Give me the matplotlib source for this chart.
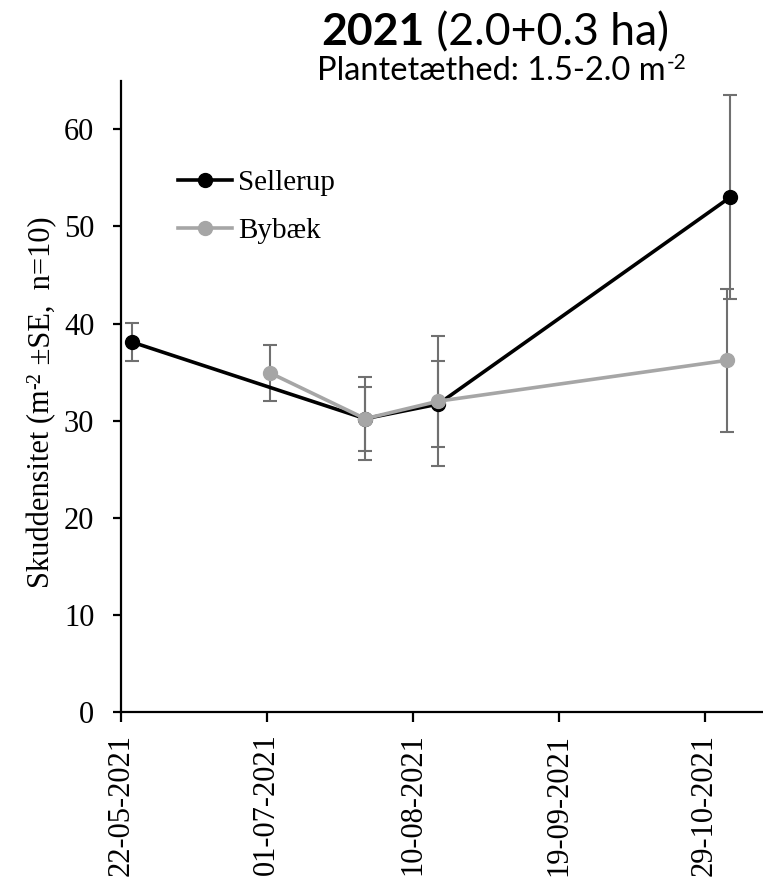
import matplotlib
matplotlib.use('Agg')
import matplotlib.pyplot as plt
import matplotlib.dates as mdates
from datetime import datetime, timedelta

# data
sellerup_dates = ['25-05-2021', '28-07-2021', '17-08-2021', '05-11-2021']
sellerup_mean = [38.1, 30.2, 31.7, 53.0]
sellerup_se = [1.95, 4.3, 4.4, 10.5]

bybaek_dates = ['02-07-2021', '28-07-2021', '17-08-2021', '04-11-2021']
bybaek_mean = [34.9, 30.2, 32.0, 36.2]
bybaek_se = [2.9, 3.3, 6.7, 7.4]

x_start = '22-05-2021'
x_end = '14-11-2021'
tick_step_days = 40
y_ticks = [0, 10, 20, 30, 40, 50, 60]

def d(s):
    return datetime.strptime(s, '%d-%m-%Y')

W, H = 763, 882
fig = plt.figure(figsize=(W/100, H/100), dpi=100)
ax = fig.add_axes([120.7/W, 1-712/H, 1-120.7/W, (712-80.7)/H])

serif = 'Liberation Serif'
sans = 'Lato'
errcol = '#707070'
greycol = '#A6A6A6'

ax.errorbar([d(s) for s in sellerup_dates], sellerup_mean, yerr=sellerup_se, fmt='none',
            ecolor=errcol, elinewidth=1.5, capsize=5, capthick=1.5, zorder=1)
ax.errorbar([d(s) for s in bybaek_dates], bybaek_mean, yerr=bybaek_se, fmt='none',
            ecolor=errcol, elinewidth=1.5, capsize=5, capthick=1.5, zorder=1)

ax.plot([d(s) for s in sellerup_dates], sellerup_mean, '-o', color='black', lw=2.6,
        ms=10, label='Sellerup', zorder=2, clip_on=False)
ax.plot([d(s) for s in bybaek_dates], bybaek_mean, '-o', color=greycol, lw=2.6,
        ms=10, label='Bybæk', zorder=3, clip_on=False)

ax.set_xlim(d(x_start), d(x_end))
ax.set_ylim(0, 65)
ticks = []
t = d(x_start)
while t <= d(x_end):
    ticks.append(t)
    t = t + timedelta(days=tick_step_days)
ax.set_xticks(ticks)
ax.xaxis.set_major_formatter(mdates.DateFormatter('%d-%m-%Y'))
ax.set_yticks(y_ticks)

for s in ['top', 'right']:
    ax.spines[s].set_visible(False)
for s in ['left', 'bottom']:
    ax.spines[s].set_linewidth(1.6)
ax.tick_params(axis='y', direction='out', length=6, width=1.6, pad=13, labelsize=22)
ax.tick_params(axis='x', direction='out', length=7, width=1.6, pad=8.5, labelsize=22,
               labelrotation=90)
for lab in ax.get_xticklabels() + ax.get_yticklabels():
    lab.set_fontfamily(serif)

ax.legend(loc='upper left', bbox_to_anchor=(178/W, 1-170/H), bbox_transform=fig.transFigure,
          frameon=False, prop={'family': serif, 'size': 21}, handlelength=1.85,
          handletextpad=0.2, labelspacing=0.72, borderpad=0, borderaxespad=0)

fig.canvas.draw()
r = fig.canvas.get_renderer()

# title in two parts: bold year + regular rest
t1 = fig.text(0, 1-45/H, '2021', fontfamily=sans, fontweight='bold', fontsize=32, va='baseline')
t2 = fig.text(0, 1-45/H, ' (2.0+0.3 ha)', fontfamily=sans, fontsize=32, va='baseline')
w1 = t1.get_window_extent(r).width
w2 = t2.get_window_extent(r).width
x0 = 495 - (w1+w2)/2
t1.set_x(x0/W)
t2.set_x((x0+w1)/W)

# subtitle with a small raised "-2"
s1 = fig.text(0, 1-80/H, 'Plantetæthed: 1.5-2.0 m', fontfamily=sans, fontsize=23.5, va='baseline')
s2 = fig.text(0, 1-(80-11)/H, '-2', fontfamily=sans, fontsize=15, va='baseline')
w1 = s1.get_window_extent(r).width
w2 = s2.get_window_extent(r).width
x0 = 501 - (w1+w2)/2
s1.set_x(x0/W)
s2.set_x((x0+w1+1)/W)

# rotated y label in three pieces (superscript -2)
ybase = 49     # x pixel of the baseline
ymid = 402     # vertical centre in pixels from top
parts = [('Skuddensitet (m', 22, 0), ('-2', 14.5, 9), (' ±SE,  n=10)', 22, 0)]
objs = []
for txt, size, raise_px in parts:
    o = fig.text(0, 0, txt, fontfamily=serif, fontsize=size, rotation=90,
                 rotation_mode='anchor', ha='left', va='baseline')
    objs.append((o, raise_px))
heights = [o.get_window_extent(r).height for o, _ in objs]
total = sum(heights)
ypos = (H - ymid) - total/2
for (o, raise_px), h in zip(objs, heights):
    o.set_position(((ybase - raise_px)/W, ypos/H))
    ypos += h

fig.savefig('out.png', dpi=100)
